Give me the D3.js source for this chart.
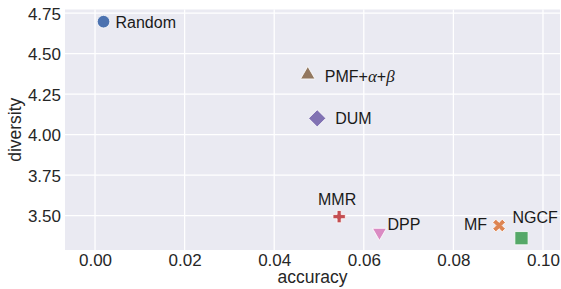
<!DOCTYPE html>
<html>
<head>
  <script src="https://d3js.org/d3.v7.min.js"></script>
  <style>
    body { margin: 0; background: #fff; }
    text { font-family: "Liberation Sans", Arial, sans-serif; fill: #262626; }
    .tick text { font-size: 17px; }
    .axis-label { font-size: 17.5px; }
    .point-label { font-size: 16px; fill: #1a1a1a; }
  </style>
</head>
<body>
  <div id="chart"></div>
  <script>
    // Data
    const methods  = ["Random", "PMF+α+β", "DUM", "MMR", "DPP", "MF", "NGCF"];
    const accuracy = [0.0019, 0.0475, 0.0496, 0.0545, 0.0635, 0.0902, 0.0952];
    const diversity = [4.698, 4.37, 4.101, 3.494, 3.397, 3.439, 3.361];
    const xTicks = [0.00, 0.02, 0.04, 0.06, 0.08, 0.10];
    const yTicks = [3.50, 3.75, 4.00, 4.25, 4.50, 4.75];

    const colors  = ["#4C72B0", "#937860", "#8172B3", "#C44E52", "#DA8BC3", "#DD8452", "#55A868"];
    const shapes  = ["circle", "triangle", "diamond", "plus", "tridown", "x", "square"];

    // label placement relative to the marker (px): dx, baseline dy, anchor
    const labelPos = {
      "Random":  [12, 6, "start"],
      "PMF+α+β": [17, 7, "start"],
      "DUM":     [18, 6, "start"],
      "MMR":     [-2, -12, "middle"],
      "DPP":     [8, -2, "start"],
      "MF":      [-12, 4, "end"],
      "NGCF":    [-9, -15, "start"]
    };

    const margin = { top: 9.5, right: 1, bottom: 39, left: 65 };
    const W = 561, H = 289;
    const width = W - margin.left - margin.right;
    const height = H - margin.top - margin.bottom;

    const svg = d3.select("#chart").append("svg")
      .attr("width", W).attr("height", H);
    const g = svg.append("g").attr("transform", `translate(${margin.left},${margin.top})`);

    const x = d3.scaleLinear().domain([-0.0067, 0.1038]).range([0, width]);
    const y = d3.scaleLinear().domain([3.288, 4.773]).range([height, 0]);

    g.append("rect").attr("width", width).attr("height", height).attr("fill", "#EAEAF2");

    // grid
    g.selectAll(".gx").data(xTicks).join("line")
      .attr("x1", d => x(d)).attr("x2", d => x(d))
      .attr("y1", 0).attr("y2", height)
      .attr("stroke", "#fff").attr("stroke-width", 1.3);
    g.selectAll(".gy").data(yTicks).join("line")
      .attr("y1", d => y(d)).attr("y2", d => y(d))
      .attr("x1", 0).attr("x2", width)
      .attr("stroke", "#fff").attr("stroke-width", 1.3);

    // axes (no lines, no ticks)
    const xAxis = g.append("g").attr("transform", `translate(0,${height})`)
      .call(d3.axisBottom(x).tickValues(xTicks).tickFormat(d3.format(".2f")).tickSize(0).tickPadding(4));
    const yAxis = g.append("g")
      .call(d3.axisLeft(y).tickValues(yTicks).tickFormat(d3.format(".2f")).tickSize(0).tickPadding(4));
    xAxis.select(".domain").remove();
    yAxis.select(".domain").remove();
    xAxis.selectAll(".tick text").attr("dy", "0.71em");
    yAxis.selectAll(".tick text").attr("dy", "0.35em");

    g.append("text").attr("class", "axis-label")
      .attr("x", width / 2).attr("y", height + 33)
      .attr("text-anchor", "middle").text("accuracy");
    g.append("text").attr("class", "axis-label")
      .attr("transform", `translate(${-44},${height / 2}) rotate(-90)`)
      .attr("text-anchor", "middle").text("diversity");

    // markers
    const plusPath = d3.symbol().type(d3.symbolCross);
    function markerPath(shape) {
      switch (shape) {
        case "circle":   return d3.symbol().type(d3.symbolCircle).size(125)();
        case "square":   return d3.symbol().type(d3.symbolSquare).size(175)();
        case "triangle": return d3.symbol().type(d3.symbolTriangle).size(90)();
        case "tridown":  return d3.symbol().type(d3.symbolTriangle).size(85)();
        case "diamond":  return d3.symbol().type(d3.symbolSquare).size(150)();
        case "plus":     return plusPath.size(85)();
        case "x":        return plusPath.size(100)();
      }
    }
    function markerRotate(shape) {
      if (shape === "diamond" || shape === "x") return 45;
      if (shape === "tridown") return 180;
      return 0;
    }

    const pts = methods.map((m, i) => ({ name: m, x: accuracy[i], y: diversity[i], c: colors[i], s: shapes[i] }));

    g.selectAll(".pt").data(pts).join("path")
      .attr("d", d => markerPath(d.s))
      .attr("transform", d => `translate(${x(d.x)},${y(d.y)}) rotate(${markerRotate(d.s)})`)
      .attr("fill", d => d.c)
      .attr("stroke", "#fff").attr("stroke-width", 0.8);

    const lbl = g.selectAll(".point-label").data(pts).join("text")
      .attr("class", "point-label")
      .attr("x", d => x(d.x) + labelPos[d.name][0])
      .attr("y", d => y(d.y) + labelPos[d.name][1])
      .attr("text-anchor", d => labelPos[d.name][2]);

    lbl.each(function (d) {
      const t = d3.select(this);
      if (d.name === "PMF+α+β") {
        t.append("tspan").text("PMF+");
        t.append("tspan").style("font-family", "'Liberation Serif', serif").style("font-style", "italic").style("font-size", "17px").text("α");
        t.append("tspan").text("+");
        t.append("tspan").style("font-family", "'Liberation Serif', serif").style("font-style", "italic").style("font-size", "17px").text("β");
      } else {
        t.text(d.name);
      }
    });
  </script>
</body>
</html>
